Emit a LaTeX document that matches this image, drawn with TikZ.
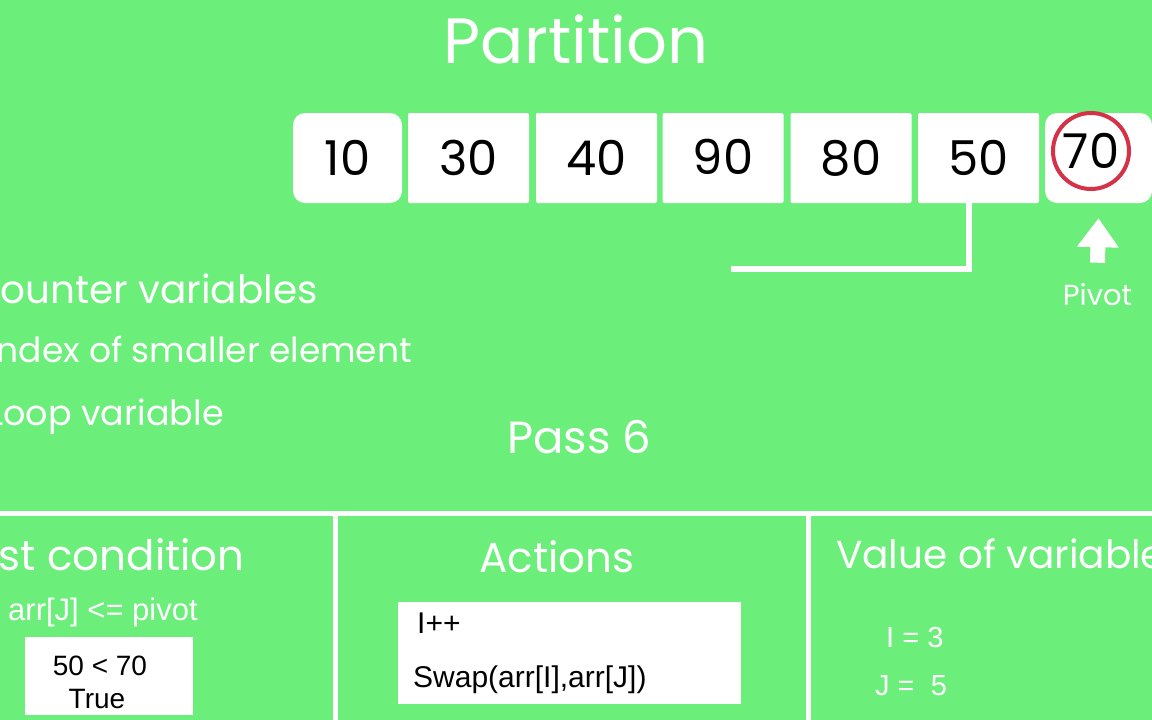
\documentclass[tikz,border=0pt]{standalone}
\usepackage{fontspec}
\setmainfont{Liberation Sans}
\newfontfamily\headfont{Poppins}
\usetikzlibrary{arrows.meta}
\definecolor{boardgreen}{RGB}{108,238,122}
\definecolor{pivotred}{RGB}{212,50,72}
\tikzset{
	cell/.style={fill=white, minimum width=121pt, minimum height=90pt, inner sep=0pt, rounded corners=2pt, font=\headfont\fontsize{48}{48}\selectfont},
	heading/.style={text=white, inner sep=0pt, font=\headfont\fontsize{42}{42}\selectfont},
	note/.style={text=white, inner sep=0pt, font=\headfont\fontsize{34.5}{34.5}\selectfont},
	codetext/.style={inner sep=0pt, font=\fontsize{30}{30}\selectfont},
	valbox/.style={fill=white, inner sep=0pt},
	link/.style={draw=white, line width=6pt},
	divider/.style={draw=white, line width=5pt},
}

\begin{document}
\begin{tikzpicture}[x=1pt,y=-1pt]
				%%%%% FRAME %%%%%
				\useasboundingbox (0,0) rectangle (1152,720);
				\clip (0,0) rectangle (1152,720);
				\fill[boardgreen] (0,0) rectangle (1152,720);

				\node[text=white, inner sep=0pt, font=\headfont\fontsize{64}{64}\selectfont, anchor=base] (title) at (576,63) {Partition};

				%%%%% ARRAY %%%%%
				\node[cell, minimum width=109pt, rounded corners=12pt] (c1) at (347.5,158) {10};
				\node[cell] (c2) at (468.5,158) {30};
				\node[cell] (c3) at (596.5,158) {40};
				\node[cell] (c4) at (723,158) {\raisebox{3pt}{90}};
				\node[cell] (c5) at (851,158) {\raisebox{-1pt}{80}};
				\node[cell] (c6) at (978.5,158) {\raisebox{-1pt}{50}};
				\node[cell, minimum width=107pt, rounded corners=12pt] (c7) at (1098.5,158) {};
				\node[draw=pivotred, line width=4pt, circle, minimum size=76pt, inner sep=0pt, font=\headfont\fontsize{48}{48}\selectfont] (pv) at (1091,151) {70};

				\coordinate (tail) at (731,269);
				\draw[link] ([xshift=-10pt]c6.south) |- (tail);

				\node[text=white, inner sep=0pt, font=\headfont\fontsize{29}{29}\selectfont, anchor=base] (pivot) at (1097.5,305) {Pivot};
				\draw[draw=white, line width=15pt, -{Triangle[width=40pt,length=29pt]}] ([yshift=20pt]pivot.north) -- ([yshift=-15pt]c7.south);

				%%%%% VARIABLES %%%%%
				\node[note, font=\headfont\fontsize{39}{39}\selectfont, anchor=base west] (counter) at (-30,303) {Counter variables};
				\node[note, anchor=base west] (idx) at (-12,362) {Index of smaller element};
				\node[note, font=\headfont\fontsize{35}{35}\selectfont, anchor=base west] (loopvar) at (-12,425) {Loop variable};

				\node[heading, font=\headfont\fontsize{45}{45}\selectfont, anchor=base] (pass) at (579.5,453) {Pass 6};

				%%%%% PANELS %%%%%
				\draw[divider] (0,513) -- (1152,513);
				\draw[divider] (335,513) -- (335,720);
				\draw[divider] (808,513) -- (808,720);

				\node[heading, anchor=base west] (testhd) at (-50,570) {Test condition};
				\node[codetext, text=white, font=\fontsize{31}{31}\selectfont, anchor=base west] (cond) at (8,620) {arr[J] <= pivot};
				\node[valbox, minimum width=168pt, minimum height=78pt] (condbox) at (109,676) {};
				\node[codetext, font=\fontsize{28}{28}\selectfont, anchor=base] (cmp) at (100,675) {50 < 70};
				\node[codetext, font=\fontsize{28}{28}\selectfont, anchor=base] (res) at (97,708) {True};

				\node[heading, anchor=base] (acthd) at (557,572) {Actions};
				\node[valbox, minimum width=343pt, minimum height=102pt] (actbox) at (569.5,653) {};
				\node[codetext, anchor=base west] (incr) at (417,633) {I++};
				\node[codetext, anchor=base west] (swap) at (413,687) {Swap(arr[I],arr[J])};

				\node[heading, font=\headfont\fontsize{39}{39}\selectfont, anchor=base west] (valhd) at (836,568) {Value of variables};
				\node[codetext, text=white, font=\fontsize{29}{29}\selectfont, anchor=base west] (ival) at (886,647) {I = 3};
				\node[codetext, text=white, font=\fontsize{29}{29}\selectfont, anchor=base west] (jval) at (875,695) {J =\ \ 5};
				%%%%% END %%%%%
\end{tikzpicture}
\end{document}
